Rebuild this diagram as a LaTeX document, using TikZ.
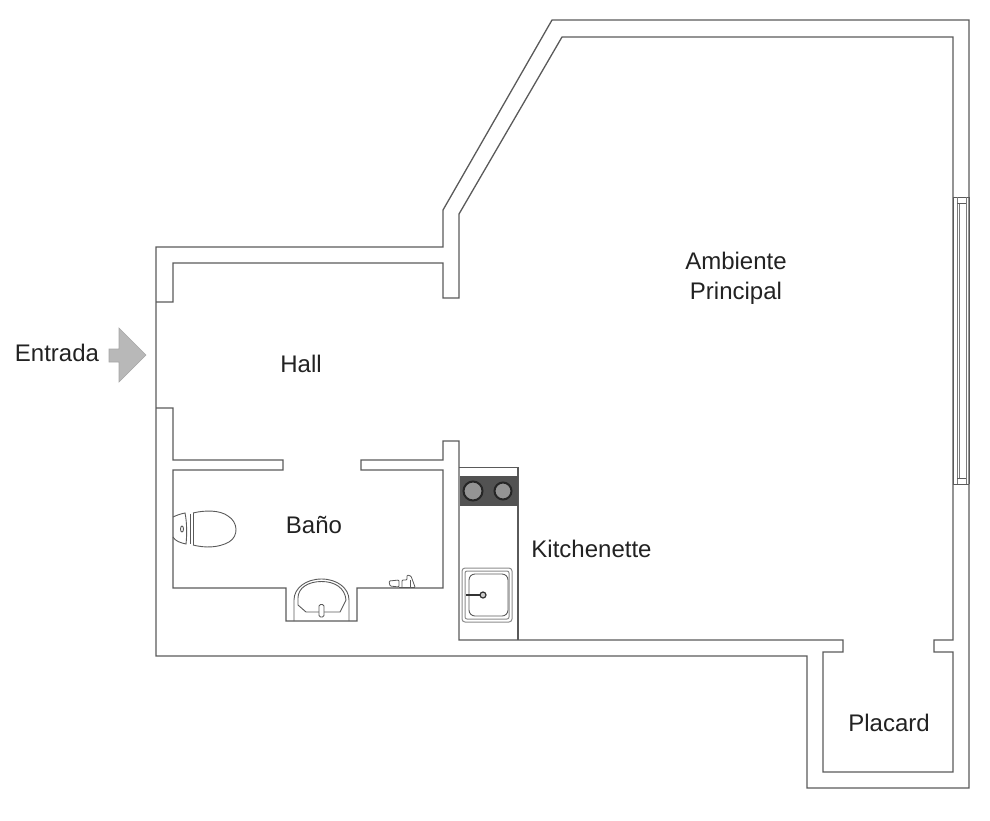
\documentclass[tikz,border=0pt]{standalone}
\usepackage{fontspec}
\setmainfont{Liberation Sans}
\definecolor{wallc}{HTML}{5A5A5A}
\definecolor{inkc}{HTML}{222222}
\tikzset{
  wall/.style={draw=wallc,line width=1.3pt,line join=miter},
  fixture/.style={draw=wallc,line width=0.9pt},
  burner/.style={draw=black!85,line width=2pt,fill=black!42},
  roomlabel/.style={text=inkc,font=\fontsize{24}{32}\selectfont,inner sep=0pt,align=center},
}
\begin{document}
\begin{tikzpicture}[x=1pt,y=-1pt]
\useasboundingbox (0,0) rectangle (990,820);
% outer walls
\draw[wall] (156,247) -- (443,247) -- (443,210) -- (552,20) -- (969,20) -- (969,788) -- (807,788) -- (807,656) -- (156,656) -- cycle;
% inner walls, main room and placard
\draw[wall] (156,302) -- (173,302) -- (173,263) -- (443,263) -- (443,298) -- (459,298) -- (459,214) -- (562,37) -- (953,37) -- (953,640) -- (934,640) -- (934,652) -- (953,652) -- (953,772) -- (823,772) -- (823,652) -- (843,652) -- (843,640) -- (459,640) -- (459,441) -- (443,441) -- (443,460) -- (361,460) -- (361,470) -- (443,470) -- (443,588) -- (357,588) -- (357,621) -- (286,621) -- (286,588) -- (173,588) -- (173,470) -- (283,470) -- (283,460) -- (173,460) -- (173,408) -- (156,408);
% window
\fill[white] (954,197) rectangle (968,484);
\draw[fixture] (953,197) -- (969,197) (953,484) -- (969,484);
\draw[fixture] (953,197) -- (953,484) (969,197) -- (969,484);
\draw[fixture,draw=wallc!80] (957,197) -- (957,484) (966,197) -- (966,484) (959.5,203) -- (959.5,478);
\draw[fixture] (957,203) -- (966,203) (957,478) -- (966,478);
% kitchen counter
\draw[fixture,line width=1.1pt] (459,467.5) -- (518,467.5) -- (518,640);
\fill[black!68] (460,476) rectangle (518,506);
\draw[burner] (473,491) circle (9.5);
\draw[burner] (503,491) circle (8.5);
% sink
\draw[draw=black!45,line width=1pt,rounded corners=3pt] (462,568) rectangle (512,622);
\draw[draw=black!45,line width=1pt,rounded corners=2pt] (465,571) rectangle (509,619);
\draw[fixture,rounded corners=6pt] (469,574) rectangle (508,616);
\draw[draw=black!80,line width=1.3pt] (466,595) -- (480,595);
\draw[draw=black!80,line width=1.2pt,fill=black!20] (483,595) circle (3);
% toilet
\draw[fixture] (173,517) .. controls (177,515) and (182,513.5) .. (185,513) .. controls (187,522) and (187,535) .. (186,544) .. controls (181,543) and (175,541) .. (173,537);
\draw[fixture] (190,513.5) -- (190,544) (193,513) -- (193,545);
\draw[fixture] (193,513) .. controls (205,510) and (220,510) .. (228,516) .. controls (238,522) and (239,536) .. (229,542) .. controls (218,548) and (205,548) .. (193,545);
\draw[fixture] (182,529) ellipse (1.5 and 3);
% wash basin
\draw[fixture] (294,621) -- (294,600) .. controls (294,588) and (306,579) .. (321.5,579) .. controls (337,579) and (349,588) .. (349,600) -- (349,621);
\draw[fixture] (298,598) .. controls (298,588) and (308,581.5) .. (321.5,581.5) .. controls (335,581.5) and (345,588) .. (346,600) -- (340,612) -- (306,612) -- (298,605) -- cycle;
\draw[fixture,fill=white,rounded corners=1.5pt] (319,604.5) rectangle (324,617);
% small fixture
\draw[fixture,line width=0.8pt,rounded corners=1pt] (389,581) -- (399,580) -- (399,587) -- (390,586) -- cycle;
\draw[fixture,line width=0.8pt,rounded corners=1pt] (402,587) -- (402,580) -- (407,580) -- (407,575) -- (411,576) -- (415,587);
\draw[fixture,line width=0.8pt] (399,587) -- (415,587) (410,580) -- (410,587);
% arrow
\draw[draw=black!35,fill=black!28,line width=0.6pt] (109,349) -- (119,349) -- (119,328) -- (146,355) -- (119,382) -- (119,362) -- (109,362) -- cycle;
% labels
\node[roomlabel] (entrada) at (57,353) {Entrada};
\node[roomlabel] (hall) at (301,364) {Hall};
\node[roomlabel] (bano) at (314,525) {Baño};
\node[roomlabel] (kitchen) at (591.5,549) {Kitchenette};
\node[roomlabel] (ambiente) at (736,260.5) {Ambiente};
\node[roomlabel] (principal) at (736,293) {Principal};
\node[roomlabel] (placard) at (889,723) {Placard};
\end{tikzpicture}
\end{document}
